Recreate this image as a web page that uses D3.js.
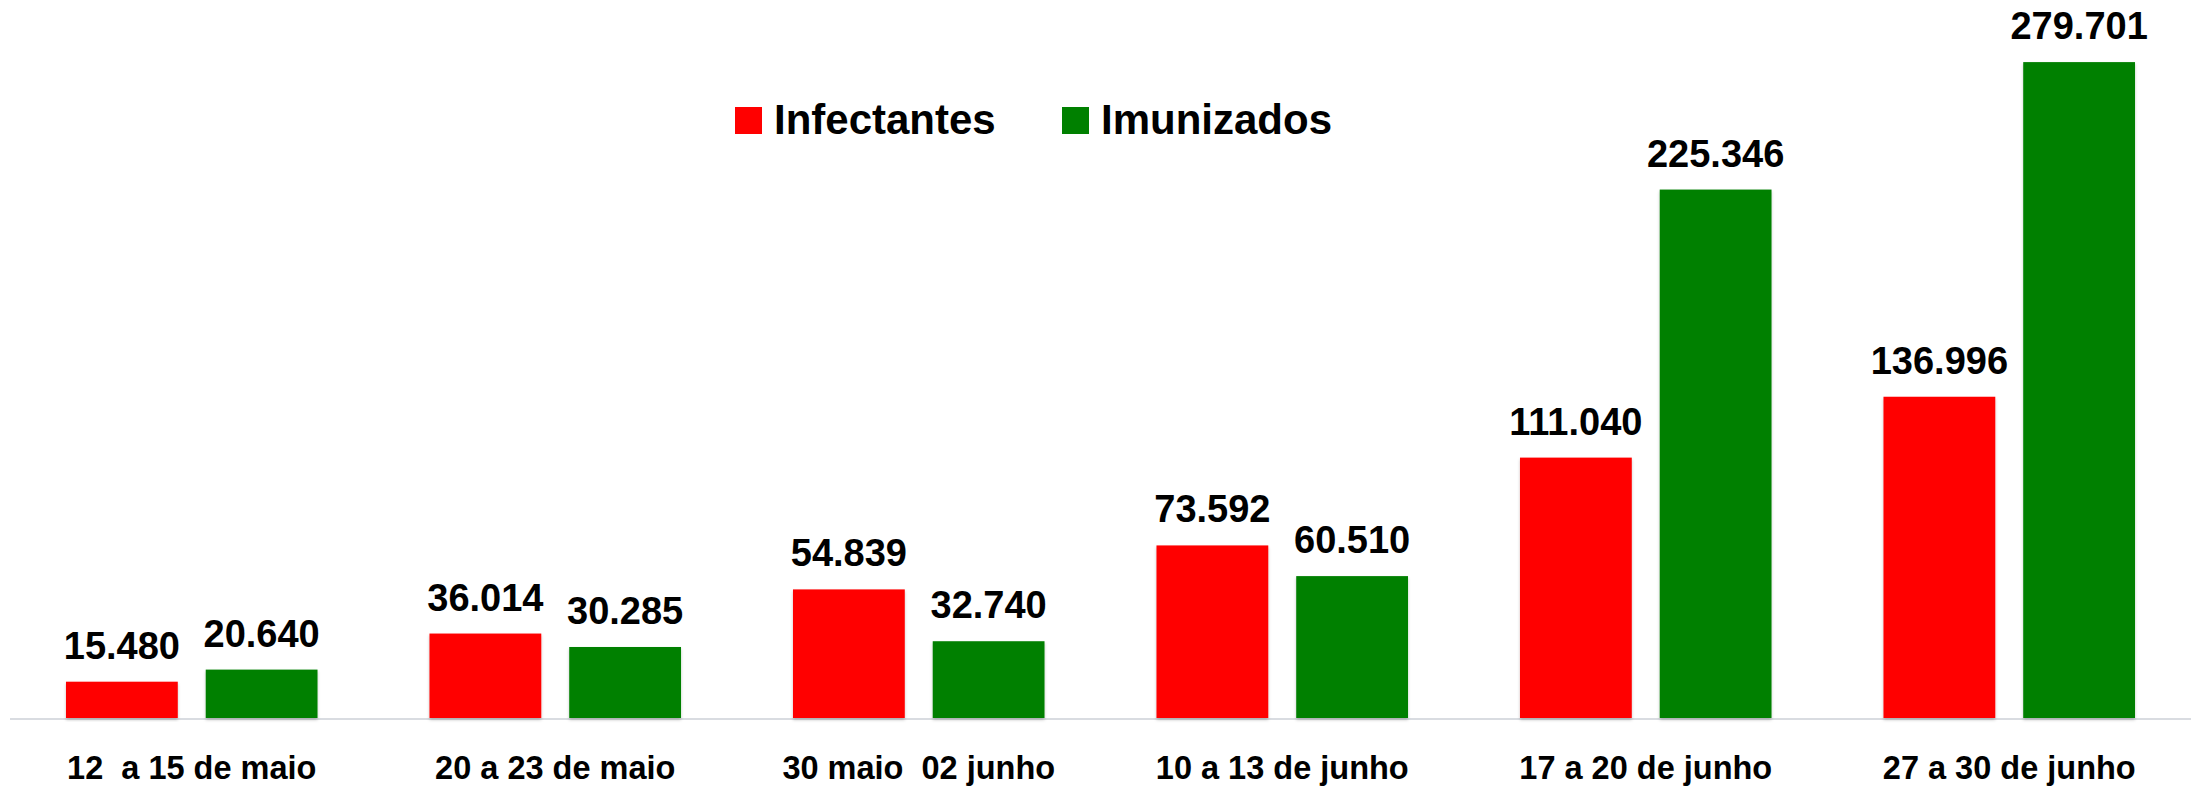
<!DOCTYPE html>
<html>
<head>
<meta charset="utf-8">
<script src="https://cdn.jsdelivr.net/npm/d3@7"></script>
<style>
  html, body { margin: 0; padding: 0; background: #ffffff; }
  svg { display: block; }
  text { font-family: "Liberation Sans", Arial, sans-serif; font-weight: bold; fill: #000; }
</style>
</head>
<body>
<svg id="chart" width="2200" height="788"></svg>
<script>
const categories = ["12  a 15 de maio", "20 a 23 de maio", "30 maio  02 junho", "10 a 13 de junho", "17 a 20 de junho", "27 a 30 de junho"];
const seriesNames = ["Infectantes", "Imunizados"];
const infectantes = [15480, 36014, 54839, 73592, 111040, 136996];
const imunizados = [20640, 30285, 32740, 60510, 225346, 279701];
const seriesColors = ["#ff0000", "#008000"];

const fmt = v => d3.format(",")(v).replace(/,/g, ".");

const svg = d3.select("#chart");
const baseY = 718, plotLeft = 10, plotRight = 2191;

const defs = svg.append("defs");
const f = defs.append("filter").attr("id", "shadow")
  .attr("x", "-10%").attr("y", "-10%").attr("width", "120%").attr("height", "120%");
f.append("feDropShadow").attr("dx", 0).attr("dy", 2).attr("stdDeviation", 1.5)
  .attr("flood-color", "#000").attr("flood-opacity", 0.22);

const x0 = d3.scaleBand().domain(categories).range([plotLeft, plotRight])
  .paddingInner(0.308).paddingOuter(0.154);
const x1 = d3.scaleBand().domain(seriesNames).range([0, x0.bandwidth()])
  .paddingInner(0.2).paddingOuter(0);
const y = d3.scaleLinear().domain([0, 300000]).range([baseY, baseY - 300000 * 0.002345]);
const color = d3.scaleOrdinal().domain(seriesNames).range(seriesColors);

const rows = categories.map((c, i) => ({ cat: c, vals: [
  { s: seriesNames[0], v: infectantes[i] },
  { s: seriesNames[1], v: imunizados[i] }
]}));

// axis line
svg.append("line")
  .attr("x1", plotLeft).attr("x2", plotRight)
  .attr("y1", baseY + 1).attr("y2", baseY + 1)
  .attr("stroke", "#d9dce1").attr("stroke-width", 2);

const g = svg.selectAll("g.grp").data(rows).enter().append("g")
  .attr("class", "grp")
  .attr("transform", d => `translate(${x0(d.cat)},0)`);

g.selectAll("rect").data(d => d.vals).enter().append("rect")
  .attr("x", d => x1(d.s))
  .attr("y", d => y(d.v))
  .attr("width", x1.bandwidth())
  .attr("height", d => baseY - y(d.v))
  .attr("fill", d => color(d.s))
  .attr("filter", "url(#shadow)");

g.selectAll("text.val").data(d => d.vals).enter().append("text")
  .attr("class", "val")
  .attr("x", d => x1(d.s) + x1.bandwidth() / 2)
  .attr("y", d => y(d.v) - 23)
  .attr("text-anchor", "middle")
  .style("font-size", "38px")
  .text(d => fmt(d.v));

// category labels
const xAxis = d3.axisBottom(x0).tickSize(0).tickPadding(0);
const ax = svg.append("g").attr("transform", `translate(0,${baseY})`).call(xAxis);
ax.select(".domain").remove();
ax.selectAll("text")
  .attr("y", 61).attr("dy", null)
  .style("font-size", "32.5px")
  .style("font-family", "'Liberation Sans', Arial, sans-serif")
  .style("font-weight", "bold")
  .style("white-space", "pre")
  .attr("fill", "#000");

// legend
const legendItems = [
  { name: seriesNames[0], sx: 735, tx: 774 },
  { name: seriesNames[1], sx: 1062, tx: 1101 }
];
const lg = svg.append("g");
lg.selectAll("rect").data(legendItems).enter().append("rect")
  .attr("x", d => d.sx).attr("y", 107).attr("width", 27).attr("height", 27)
  .attr("fill", d => color(d.name));
lg.selectAll("text").data(legendItems).enter().append("text")
  .attr("x", d => d.tx).attr("y", 134)
  .style("font-size", "42px")
  .text(d => d.name);
</script>
</body>
</html>
